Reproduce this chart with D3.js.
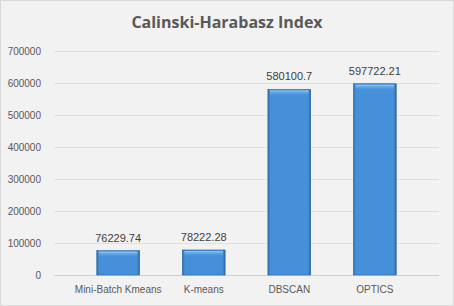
<!DOCTYPE html>
<html>
<head>
<script src="https://d3js.org/d3.v7.min.js"></script>
<style>
  body { margin: 0; background: #fff; }
  .axis text { font: 10px "Liberation Sans", sans-serif; fill: #595959; }
  .axis path, .axis line { display: none; }
</style>
</head>
<body>
<svg id="chart"></svg>
<script>
var categories = ['Mini-Batch Kmeans', 'K-means', 'DBSCAN', 'OPTICS'];
var values = [76229.74, 78222.28, 580100.7, 597722.21];
var valueLabels = ['76229.74', '78222.28', '580100.7', '597722.21'];
var yTicks = [0, 100000, 200000, 300000, 400000, 500000, 600000, 700000];

var W = 454, H = 306;
var margin = {top: 51, right: 15, bottom: 31, left: 54};
var width = W - margin.left - margin.right;
var height = H - margin.top - margin.bottom;

var svg = d3.select('#chart').attr('width', W).attr('height', H);

var defs = svg.append('defs');
var grad = defs.append('linearGradient').attr('id', 'barGrad')
  .attr('x1', 0).attr('x2', 1).attr('y1', 0).attr('y2', 0);
grad.append('stop').attr('offset', '0%').attr('stop-color', '#2f6fb3');
grad.append('stop').attr('offset', '6%').attr('stop-color', '#4690da');
grad.append('stop').attr('offset', '94%').attr('stop-color', '#4690da');
grad.append('stop').attr('offset', '100%').attr('stop-color', '#2a64a3');

var topGrad = defs.append('linearGradient').attr('id', 'topGrad')
  .attr('x1', 0).attr('x2', 0).attr('y1', 0).attr('y2', 1);
topGrad.append('stop').attr('offset', '0%').attr('stop-color', '#8ccaf7').attr('stop-opacity', 1);
topGrad.append('stop').attr('offset', '100%').attr('stop-color', '#4690da').attr('stop-opacity', 0);

svg.append('rect')
  .attr('x', 0.5).attr('y', 0.5).attr('width', W - 1).attr('height', H - 1)
  .attr('fill', '#f2f2f2').attr('stroke', '#d9d9d9');

svg.append('text')
  .attr('x', W / 2).attr('y', 28)
  .attr('text-anchor', 'middle')
  .style('font', 'bold 16px "Open Sans", sans-serif')
  .style('fill', '#595959')
  .text('Calinski-Harabasz Index');

var x = d3.scaleBand().domain(categories).range([0, width]).padding(0.5);
var y = d3.scaleLinear().domain([0, 700000]).range([height, 0]);

var chart = svg.append('g').attr('transform', `translate(${margin.left}, ${margin.top})`);

chart.selectAll('.grid').data(yTicks).enter().append('line')
  .attr('x1', 0).attr('x2', width)
  .attr('y1', d => y(d) + 0.5).attr('y2', d => y(d) + 0.5)
  .attr('stroke', d => d === 0 ? '#d0d0d0' : '#e0e0e0');

chart.append('g').attr('class', 'axis y')
  .attr('transform', 'translate(-10, 0)')
  .call(d3.axisLeft(y).tickValues(yTicks).tickFormat(d3.format('d')).tickSize(0));

chart.append('g').attr('class', 'axis x')
  .attr('transform', `translate(0, ${height + 8})`)
  .call(d3.axisBottom(x).tickSize(0));

var bars = chart.selectAll('.bar').data(values).enter().append('g');
bars.append('rect')
  .attr('x', (d, i) => x(categories[i]))
  .attr('y', d => y(d))
  .attr('width', x.bandwidth())
  .attr('height', d => height - y(d))
  .attr('fill', 'url(#barGrad)')
  .attr('stroke', '#2a5f99').attr('stroke-width', 0.6);
bars.append('rect')
  .attr('x', (d, i) => x(categories[i]) + 2)
  .attr('y', d => y(d) + 1)
  .attr('width', x.bandwidth() - 4)
  .attr('height', 6)
  .attr('fill', 'url(#topGrad)');

chart.selectAll('.val').data(values).enter().append('text')
  .attr('x', (d, i) => x(categories[i]) + x.bandwidth() / 2)
  .attr('y', d => y(d) - 9)
  .attr('text-anchor', 'middle')
  .style('font', '11px "Liberation Sans", sans-serif')
  .style('fill', '#404040')
  .text((d, i) => valueLabels[i]);
</script>
</body>
</html>
